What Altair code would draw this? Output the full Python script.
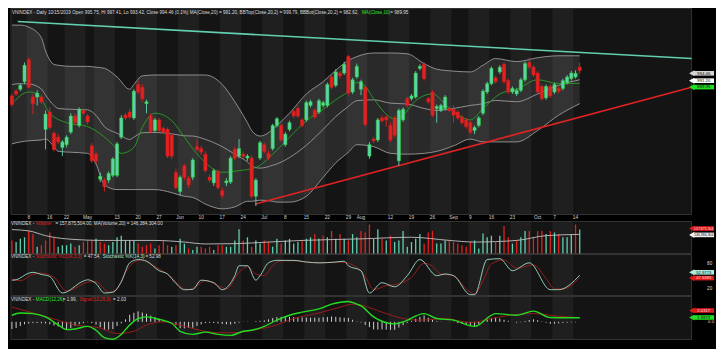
import altair as alt
import pandas as pd

# ---------------- data ----------------
# trading-day index: 0 = 2 Apr 2019 ... 135 = 15 Oct 2019
opens = [985.4, 987.1, 987.8, 990.5, 998.4, 985.0, 985.0, 985.0, 973.4, 979.6,
         972.0, 970.6, 966.9, 967.9, 972.4, 978.2, 974.8, 980.2, 978.2, 967.5,
         964.5, 955.5, 955.2, 955.2, 956.9, 956.9, 970.6, 978.5, 979.6, 977.5,
         989.5, 988.5, 982.6, 978.2, 973.0, 976.8, 973.7, 973.4, 971.3, 957.9,
         951.1, 960.3, 955.9, 956.2, 967.2, 966.5, 964.5, 956.2, 954.2, 958.3,
         951.4, 954.2, 954.5, 966.2, 963.8, 964.5, 963.1, 963.1, 949.4, 963.1,
         967.9, 964.8, 966.5, 974.8, 974.8, 967.9, 973.4, 979.9, 980.9, 976.8,
         976.8, 982.0, 980.2, 979.6, 982.0, 982.0, 992.2, 989.2, 993.6, 993.6,
         999.5, 986.8, 992.2, 987.8, 988.5, 963.8, 969.9, 969.6, 977.5, 977.8,
         974.8, 977.5, 962.1, 976.8, 984.4, 984.4, 985.0, 995.3, 996.7, 984.4,
         986.8, 980.9, 980.2, 980.9, 980.9, 980.6, 979.6, 977.8, 976.8, 975.8,
         973.0, 974.8, 979.2, 986.8, 989.8, 991.9, 994.0, 996.7, 990.9, 986.8,
         986.1, 987.4, 991.2, 997.4, 995.7, 993.6, 988.8, 984.7, 988.8, 986.8,
         988.1, 988.1, 990.2, 991.6, 992.2, 995.75]
highs = [986.1, 987.8, 989.8, 997.4, 999.1, 986.1, 987.4, 985.7, 980.2, 981.3,
         972.7, 971.7, 969.6, 971.3, 979.2, 979.2, 981.3, 980.9, 978.9, 968.6,
         965.5, 957.9, 955.9, 958.3, 963.4, 968.9, 978.5, 979.2, 980.6, 987.8,
         990.9, 989.5, 984.0, 979.2, 977.5, 977.5, 974.4, 974.1, 972.0, 959.3,
         956.9, 961.0, 956.6, 963.1, 969.9, 967.5, 965.5, 957.3, 959.3, 959.0,
         952.5, 955.9, 963.8, 967.2, 969.9, 965.5, 964.5, 964.1, 955.9, 969.3,
         968.6, 965.8, 975.4, 977.8, 975.4, 972.4, 976.5, 980.6, 982.0, 977.5,
         983.7, 984.0, 980.9, 984.4, 983.7, 990.2, 992.9, 995.0, 994.3, 997.7,
         1000.1, 991.9, 997.0, 991.2, 989.5, 968.9, 970.6, 977.5, 978.5, 978.5,
         975.8, 978.2, 980.9, 981.3, 985.0, 986.1, 994.3, 996.7, 997.4, 985.0,
         987.4, 982.3, 982.6, 985.7, 981.6, 982.0, 980.2, 978.5, 977.5, 976.5,
         974.8, 978.2, 987.8, 990.5, 996.0, 992.6, 996.4, 997.4, 991.6, 988.8,
         988.1, 991.9, 997.7, 999.1, 996.4, 994.3, 989.5, 989.5, 989.5, 990.2,
         988.8, 991.6, 992.9, 994.3, 994.6, 997.41]
lows = [981.6, 985.4, 987.1, 989.8, 988.1, 978.9, 982.0, 982.6, 966.2, 973.4,
        965.5, 968.2, 963.8, 966.9, 971.7, 974.8, 974.1, 978.5, 975.1, 961.4,
        961.0, 954.5, 951.1, 954.2, 956.2, 956.2, 969.9, 976.8, 977.2, 976.8,
        986.1, 983.3, 979.2, 972.0, 972.4, 972.4, 971.7, 963.1, 962.8, 951.8,
        949.7, 955.2, 952.5, 955.2, 965.5, 964.1, 957.9, 954.5, 953.1, 951.8,
        948.7, 953.1, 953.8, 962.4, 963.1, 962.8, 962.1, 948.7, 945.9, 962.4,
        964.8, 962.4, 965.8, 974.1, 968.9, 967.2, 972.7, 977.5, 977.5, 974.1,
        976.1, 981.3, 977.2, 978.9, 981.3, 981.3, 987.8, 988.5, 991.6, 992.9,
        985.7, 986.1, 991.6, 985.7, 974.4, 962.8, 968.6, 968.9, 975.8, 974.4,
        968.9, 970.6, 960.3, 976.1, 981.3, 983.7, 984.4, 994.6, 990.9, 982.6,
        977.8, 975.8, 979.6, 980.2, 979.6, 975.8, 976.8, 975.1, 973.7, 971.7,
        971.7, 974.1, 978.5, 986.1, 989.2, 989.8, 993.3, 989.8, 986.1, 986.1,
        985.4, 986.8, 990.5, 995.0, 992.2, 986.1, 983.7, 984.0, 984.7, 986.1,
        986.4, 987.4, 989.5, 990.9, 991.6, 993.42]
closes = [982.3, 986.1, 989.2, 996.4, 988.5, 982.6, 986.4, 983.3, 978.9, 974.1,
          966.2, 968.9, 968.9, 970.6, 978.2, 975.8, 980.6, 979.2, 976.1, 962.1,
          962.1, 956.6, 952.8, 957.6, 962.8, 968.2, 977.5, 977.5, 977.8, 987.1,
          986.8, 984.4, 983.3, 972.7, 976.8, 973.0, 972.4, 963.8, 963.8, 952.5,
          956.2, 956.2, 953.5, 962.4, 966.2, 965.2, 958.6, 955.2, 958.6, 952.5,
          949.7, 954.9, 963.1, 963.1, 966.5, 963.8, 963.8, 949.4, 955.2, 968.6,
          965.5, 963.1, 974.8, 977.2, 969.6, 971.7, 975.8, 978.2, 978.2, 974.8,
          983.0, 983.3, 977.8, 983.7, 983.0, 989.5, 988.5, 994.0, 992.6, 996.7,
          986.4, 991.2, 996.0, 990.5, 975.1, 967.9, 969.3, 976.8, 976.5, 976.8,
          969.6, 971.3, 980.2, 980.6, 982.0, 985.4, 993.6, 996.0, 991.6, 983.3,
          978.5, 981.6, 982.0, 985.0, 980.2, 978.5, 977.5, 975.8, 974.4, 972.4,
          974.1, 977.5, 987.1, 989.8, 995.3, 990.5, 995.7, 990.5, 986.8, 988.1,
          987.4, 991.2, 997.0, 995.7, 992.9, 986.8, 984.4, 988.8, 985.4, 989.5,
          987.1, 990.9, 992.2, 993.6, 993.5, 994.46]
volumes = [131.8, 128.0, 135.7, 139.5, 154.8, 147.2, 116.5, 120.3, 131.8, 151.0,
           139.5, 116.5, 120.3, 120.3, 124.2, 116.5, 120.3, 128.0, 131.8, 131.8,
           135.7, 128.0, 124.2, 120.3, 128.0, 139.5, 143.3, 131.8, 131.8, 131.8,
           124.2, 116.5, 120.3, 124.2, 112.7, 120.3, 131.8, 120.3, 116.5, 120.3,
           135.7, 124.2, 112.7, 108.8, 116.5, 116.5, 112.7, 116.5, 108.8, 120.3,
           120.3, 116.5, 116.5, 131.8, 158.7, 131.8, 139.5, 116.5, 131.8, 124.2,
           131.8, 128.0, 116.5, 135.7, 124.2, 131.8, 135.7, 124.2, 128.0, 131.8,
           135.7, 139.5, 147.2, 135.7, 143.3, 139.5, 154.8, 135.7, 147.2, 135.7,
           131.8, 147.2, 139.5, 154.8, 151.0, 170.2, 135.7, 158.7, 135.7, 131.8,
           143.3, 128.0, 131.8, 154.8, 116.5, 128.0, 135.7, 147.2, 124.2, 151.0,
           154.8, 124.2, 124.2, 131.8, 131.8, 128.0, 124.2, 120.3, 116.5, 128.0,
           131.8, 112.7, 148.7, 139.5, 143.3, 128.0, 143.3, 166.3, 139.5, 124.2,
           131.8, 139.5, 154.8, 154.8, 139.5, 154.8, 154.8, 147.2, 154.8, 151.0,
           147.2, 139.5, 139.5, 147.2, 170.2, 157.9]

bb_idx = [0, 2, 4, 7, 8, 10, 11, 14, 18, 20, 22, 25, 28, 29, 31, 34, 38, 41, 43, 46,
          50, 53, 54, 56, 57, 59, 62, 63, 66, 70, 74, 77, 80, 82, 86, 90, 94, 98, 101, 105,
          109, 112, 115, 120, 125, 130, 135]
bb_upper = [1010.8, 1010.8, 1010.1, 1006.3, 1001.5, 996.7, 996.4, 996.0, 996.0, 995.7,
            995.3, 992.2, 987.8, 989.5, 992.6, 992.9, 992.9, 992.9, 992.9, 992.9,
            989.5, 983.3, 980.9, 975.8, 973.0, 971.0, 973.4, 974.8, 979.2, 986.1,
            990.5, 994.6, 998.1, 999.5, 1000.8, 1000.8, 1000.5, 997.0, 995.0, 994.3,
            994.0, 996.4, 998.8, 997.7, 999.1, 999.8, 999.79]
bb_mid = [989.5, 989.8, 989.7, 987.9, 985.7, 982.0, 980.9, 980.6, 980.4, 978.4,
          974.4, 972.0, 969.8, 970.6, 972.2, 972.3, 971.8, 971.1, 971.0, 969.8,
          967.2, 964.5, 963.6, 961.7, 960.3, 959.5, 960.5, 961.0, 963.3, 967.7,
          973.4, 978.0, 981.6, 983.7, 984.0, 982.8, 982.5, 980.9, 980.2, 980.9,
          982.0, 982.6, 983.8, 983.3, 986.1, 989.2, 991.20]
bb_lower = [968.2, 968.9, 969.3, 969.6, 969.9, 967.2, 965.5, 965.2, 964.8, 961.0,
            953.5, 951.8, 951.8, 951.8, 951.8, 951.8, 950.7, 949.4, 949.0, 946.6,
            944.9, 945.6, 946.3, 947.6, 947.6, 948.0, 947.6, 947.3, 947.3, 949.4,
            956.2, 961.4, 965.2, 967.9, 967.2, 964.8, 964.5, 964.8, 965.5, 967.5,
            969.9, 968.9, 968.9, 968.9, 973.0, 978.5, 982.62]
ma10_idx = [0, 4, 6, 9, 13, 18, 24, 26, 29, 31, 34, 38, 41, 43, 46, 50, 54, 58, 62, 66,
            70, 74, 77, 80, 82, 84, 86, 91, 93, 96, 100, 104, 109, 112, 116, 120, 125, 130, 135]
ma10_val = [982.6, 986.8, 986.1, 979.2, 975.8, 974.4, 967.9, 964.8, 966.9, 974.1,
            979.2, 976.5, 970.6, 966.5, 961.4, 958.0, 958.6, 959.7, 964.5, 970.6,
            976.5, 980.6, 984.0, 987.1, 990.2, 988.8, 984.4, 977.2, 978.5, 983.7,
            986.1, 980.9, 976.8, 980.9, 986.1, 987.8, 991.2, 989.8, 989.95]

vma_idx = [0, 4, 8, 13, 22, 34, 41, 46, 53, 61, 69, 83, 95, 104, 110, 120, 127, 135]
vma_val = [157.9, 154.9, 143.4, 135.6, 131.9, 131.9, 128.0, 123.4, 124.1, 128.0,
           131.9, 135.6, 139.5, 131.9, 128.0, 131.9, 143.4, 146.4]

stk_idx = [0, 1, 4, 5, 7, 9, 12, 17, 18, 20, 22, 24, 26, 28, 30, 32, 35, 37, 39, 41,
           43, 45, 48, 50, 53, 54, 56, 58, 59, 61, 63, 65, 67, 70, 73, 77, 79, 80, 83, 85,
           88, 91, 94, 97, 101, 103, 105, 109, 110, 113, 116, 119, 123, 128, 130, 135]
stk_val = [41, 42, 58, 60, 55, 50, 10, 39, 42, 33, 10, 12, 37, 83, 91, 87, 64, 56, 33, 18,
           19, 41, 35, 18, 52, 76, 76, 41, 52, 83, 89, 89, 89, 85, 83, 85, 87, 76, 64, 10,
           35, 25, 52, 91, 52, 56, 52, 6, 6, 91, 93, 64, 83, 18, 18, 52.98]
std_idx = [0, 2, 5, 7, 10, 13, 18, 20, 23, 25, 27, 29, 31, 33, 36, 38, 40, 42, 44, 46,
           49, 51, 54, 56, 58, 60, 62, 64, 67, 71, 74, 78, 80, 82, 84, 86, 89, 91, 95, 98,
           100, 102, 105, 108, 110, 112, 114, 117, 120, 124, 127, 129, 131, 135]
std_val = [44, 40, 55, 58, 48, 15, 36, 38, 12, 20, 60, 84, 90, 80, 62, 48, 26, 18, 28, 40,
           28, 20, 60, 74, 56, 52, 76, 88, 88, 84, 83, 85, 82, 72, 50, 18, 28, 30, 48, 82,
           75, 56, 52, 20, 8, 40, 80, 90, 70, 78, 45, 20, 20, 47.54]

macd_idx = [0, 2, 5, 8, 11, 13, 15, 18, 20, 22, 24, 26, 28, 30, 32, 35, 38, 40, 43, 46,
            49, 52, 55, 57, 60, 63, 66, 69, 73, 76, 80, 82, 83, 86, 91, 93, 98, 101, 105, 110,
            115, 120, 124, 128, 132, 135]
macd_val = [3.2, 4.3, 4.0, 2.4, -1.5, -3.8, -3.5, -2.2, -4.1, -7.7, -8.5, -6.1, -1.5, 1.6,
            2.4, 1.2, -0.7, -4.6, -6.1, -5.0, -6.1, -6.6, -4.6, -4.1, -2.2, 0.8, 3.2, 4.7,
            6.3, 8.6, 9.9, 8.6, 7.8, 2.4, -1.0, 0.0, 4.0, 1.6, 0.8, -2.2, 4.0, 3.2, 5.2,
            2.1, 2.0, 1.99]
sig_idx = [0, 4, 11, 15, 21, 25, 29, 32, 36, 40, 44, 49, 53, 58, 63, 67, 73, 78, 81, 83,
           88, 93, 97, 103, 109, 114, 120, 124, 130, 135]
sig_val = [7.2, 4.9, 0.8, -1.5, -3.0, -5.7, -4.6, -1.5, 0.0, -1.5, -3.8, -5.3, -5.3, -3.8,
           -1.5, 1.6, 4.3, 7.1, 8.6, 8.1, 4.7, 1.6, 0.8, 1.6, -0.4, 1.6, 3.6, 4.0, 2.7, 2.03]
macd_hist = [-3.5, -3.0, -2.0, -1.2, -0.8, -0.6, -0.6, -0.7, -0.8, -1.2,
             -1.8, -2.3, -3.0, -3.6, -3.0, -2.0, -1.2, -0.6, -0.2, -0.6,
             -1.3, -2.6, -4.0, -3.8, -3.5, -2.0, -0.7, 1.2, 3.4, 4.4,
             5.1, 4.5, 3.9, 3.0, 2.3, 1.6, 1.0, 0.4, 0.0, -1.5,
             -3.1, -3.2, -3.0, -2.9, -2.0, -1.2, -0.6, -0.5, -0.6, -0.8,
             -1.0, -1.2, -1.3, -0.9, -0.4, 0.1, 0.1, 0.0, 0.3, 0.5,
             0.7, 1.2, 1.8, 2.3, 2.4, 2.5, 2.4, 2.3, 2.3, 2.2,
             2.1, 2.0, 2.0, 2.0, 2.2, 2.4, 2.6, 2.4, 2.2, 2.0,
             1.9, 1.0, 0.2, -0.3, -1.5, -2.6, -3.7, -3.8, -3.7, -3.8,
             -3.9, -3.9, -2.8, -1.6, -0.5, 0.5, 1.5, 2.4, 3.1, 2.0,
             1.0, 0.3, 0.1, 0.0, -0.1, -0.2, -0.6, -1.0, -1.5, -1.9,
             -2.2, -1.2, 0.2, 1.2, 1.8, 2.1, 1.6, 1.0, 0.5, 0.0,
             -0.4, -0.2, 0.4, 0.9, 1.2, 0.8, 0.2, -0.4, -1.0, -0.9,
             -0.7, -0.5, -0.4, -0.3, -0.2, -0.04]

trend_name = ["res", "res", "sup", "sup"]
trend_idx = [1.4, 161.6, 57.9, 161.6]
trend_price = [1012.1, 998.8, 946.6, 988.5]

tick_idx = [4, 9, 13, 18, 25, 30, 35, 40, 45, 50, 55, 60, 65, 70, 75, 80, 83, 90, 95, 100,
            105, 109, 114, 119, 125, 129, 134]
tick_lbl = ["8", "16", "22", "May", "13", "20", "27", "Jun", "10", "17", "24", "Jul", "8",
            "15", "22", "29", "Aug", "12", "19", "26", "Sep", "9", "16", "23", "Oct", "7", "14"]
week_starts = [0, 4, 9, 13, 18, 20, 25, 30, 35, 40, 45, 50, 55, 60, 65, 70, 75, 80, 85, 90,
               95, 100, 105, 109, 114, 119, 124, 129, 134]

# ---------------- layout / style ----------------
W = 708
SX = W / 724.0
XMIN, XMAX = -0.93, 167.4
H_MAIN, H_DATE, H_VOL, H_STO, H_MACD, H_BOT = 207, 6, 33, 42, 44, 9
FONT = "Liberation Sans"
GREEN, RED = "#1fe01f", "#e31c1c"
VGREEN, VRED = "#28a828", "#d01e1e"
WHITE = "#dcdcdc"
PX0, PX1 = 3 * SX, 699 * SX
TAG0, TAG1 = 701 * SX, 722 * SX

xs = alt.Scale(domain=[XMIN, XMAX], nice=False, zero=False)
ONE = pd.DataFrame({"a": [0]})


def X(f):
    return alt.X(f, type="quantitative", scale=xs, axis=None)


n = len(closes)
df = pd.DataFrame(dict(idx=list(range(n)), o=opens, h=highs, l=lows, c=closes,
                       v=volumes, hist=macd_hist))
df["dir"] = ["up" if c >= o else "dn" for o, c in zip(opens, closes)]
prev = [opens[0]] + closes[:-1]
df["vdir"] = ["up" if c >= p else "dn" for c, p in zip(closes, prev)]
dir_scale = alt.Scale(domain=["up", "dn"], range=[GREEN, RED])
vdir_scale = alt.Scale(domain=["up", "dn"], range=[VGREEN, VRED])

light = []
for k, s in enumerate(week_starts):
    e = week_starts[k + 1] if k + 1 < len(week_starts) else n
    if k % 2 == 1:
        light.append(dict(x0=s - 0.5, x1=e - 0.5))
stripe_df = pd.DataFrame(light)


def background(h):
    base = alt.Chart(ONE).mark_rect(fill="#141414", stroke="#3e3e3e", strokeWidth=0.8).encode(
        x=alt.value(PX0), x2=alt.value(PX1), y=alt.value(0.5), y2=alt.value(h - 0.5))
    st = alt.Chart(stripe_df).mark_rect(fill="#1f1f1f").encode(
        x=X("x0"), x2=alt.X2("x1"), y=alt.value(1), y2=alt.value(h - 1))
    return [base, st]


def segs(items, py, size=4.6):
    out = []
    for rx, t, c in items:
        out.append(alt.Chart(ONE).mark_text(text=t, color=c, align="left", baseline="middle",
                                            font=FONT, fontSize=size).encode(
            x=alt.value(rx * SX), y=alt.value(py)))
    return out


def tags(items):
    out = []
    for label, py, fill, tc, fs in items:
        out.append(alt.Chart(ONE).mark_rect(fill=fill).encode(
            x=alt.value(TAG0), x2=alt.value(TAG1), y=alt.value(py - 2.3), y2=alt.value(py + 2.3)))
        out.append(alt.Chart(ONE).mark_point(shape="triangle-left", filled=True, fill=fill,
                                             stroke=fill, size=7, opacity=1).encode(
            x=alt.value(TAG0 - 1.3), y=alt.value(py)))
        out.append(alt.Chart(ONE).mark_text(text=label, color=tc, align="center", baseline="middle",
                                            font=FONT, fontSize=fs).encode(
            x=alt.value((TAG0 + TAG1) / 2), y=alt.value(py + 0.2)))
    return out


# ---------------- main price panel ----------------
ys = alt.Scale(domain=[942.68, 1016.94], nice=False, zero=False)
bands = pd.DataFrame(dict(idx=bb_idx, up=bb_upper, mid=bb_mid, lo=bb_lower))
ma10 = pd.DataFrame(dict(idx=ma10_idx, v=ma10_val))
trend = pd.DataFrame(dict(name=trend_name, idx=trend_idx, p=trend_price))

main_layers = background(H_MAIN)
main_layers.append(alt.Chart(bands).mark_area(color="#ffffff", opacity=0.09, interpolate="monotone").encode(
    x=X("idx"), y=alt.Y("up", scale=ys, axis=None), y2="lo"))
for col in ["up", "lo", "mid"]:
    main_layers.append(alt.Chart(bands).mark_line(color="#9a9a9a", strokeWidth=0.9,
                                                  interpolate="monotone").encode(
        x=X("idx"), y=alt.Y(col, scale=ys, axis=None)))
main_layers.append(alt.Chart(ma10).mark_line(color="#26a026", strokeWidth=0.9,
                                             interpolate="monotone").encode(
    x=X("idx"), y=alt.Y("v", scale=ys, axis=None)))
main_layers.append(alt.Chart(trend).mark_line(strokeWidth=1.6, clip=True).encode(
    x=X("idx"), y=alt.Y("p", scale=ys, axis=None), detail="name:N",
    color=alt.Color("name:N", scale=alt.Scale(domain=["res", "sup"], range=["#62cfb0", "#e02222"]),
                    legend=None)))
main_layers.append(alt.Chart(df).mark_rule(strokeWidth=0.9).encode(
    x=X("idx"), y=alt.Y("l", scale=ys, axis=None), y2="h",
    color=alt.Color("dir:N", scale=dir_scale, legend=None)))
main_layers.append(alt.Chart(df).transform_calculate(
    x0="datum.idx - 0.38", x1="datum.idx + 0.38").mark_rect(strokeWidth=0.5).encode(
    x=X("x0:Q"), x2="x1:Q", y=alt.Y("o", scale=ys, axis=None), y2="c",
    color=alt.Color("dir:N", scale=dir_scale, legend=None),
    stroke=alt.Stroke("dir:N", scale=dir_scale, legend=None)))
main_layers += segs([
    (4, "VNINDEX - Daily 10/15/2019 Open 995.75, Hi 997.41, Lo 993.42, Close 994.46 (0.1%) "
        "MA(Close,20) = 991.20, BBTop(Close,20,2) = 999.79, BBBot(Close,20,2) = 982.62,", WHITE),
    (362, "MA(Close,10)", "#2ee62e"), (391, "= 989.95", WHITE)], 4.8)
main_layers += tags([("994.46", 65.3, "#d4d4d4", "#111111", 4.4),
                     ("991.20", 72.7, "#ffffff", "#111111", 4.4),
                     ("989.95", 79.1, "#22dd22", "#111111", 4.4)])
main = alt.layer(*main_layers).properties(width=W, height=H_MAIN)

# ---------------- date strip ----------------
ticks = pd.DataFrame(dict(idx=tick_idx, t=tick_lbl))
date = alt.layer(
    alt.Chart(ONE).mark_rect(fill="#000000").encode(
        x=alt.value(0), x2=alt.value(W), y=alt.value(0), y2=alt.value(H_DATE)),
    alt.Chart(ticks).mark_text(color="#d0d0d0", font=FONT, fontSize=4.8, baseline="middle").encode(
        x=X("idx"), y=alt.value(3.2), text="t:N"),
).properties(width=W, height=H_DATE)

# ---------------- volume ----------------
yv = alt.Scale(domain=[99.25, 178.6], nice=False, zero=False)
vma = pd.DataFrame(dict(idx=vma_idx, v=vma_val))
vol_layers = background(H_VOL)
vol_layers.append(alt.Chart(df).mark_rule(strokeWidth=1.3, clip=True).encode(
    x=X("idx"), y=alt.Y("v", scale=yv, axis=None), y2=alt.value(H_VOL - 0.5),
    color=alt.Color("vdir:N", scale=vdir_scale, legend=None)))
vol_layers.append(alt.Chart(vma).mark_line(color="#c0c0c0", strokeWidth=0.9,
                                           interpolate="monotone").encode(
    x=X("idx"), y=alt.Y("v", scale=yv, axis=None)))
vol_layers += segs([(3, "VNINDEX - ", WHITE), (28.5, "Volume", RED),
                    (48.5, "= 157,875,504.00, MA(Volume,20) = 146,384,304.00", WHITE)], 3.4)
vol_layers += tags([("157,875,504", 7.5, "#e01b1b", "#ffdede", 3.5),
                    ("146,384,304", 13.9, "#f2f2f2", "#111111", 3.5)])
vol = alt.layer(*vol_layers).properties(width=W, height=H_VOL)

# ---------------- stochastic ----------------
yst = alt.Scale(domain=[2.8, 104.4], nice=False, zero=False)
stk = pd.DataFrame(dict(idx=stk_idx, v=stk_val))
std = pd.DataFrame(dict(idx=std_idx, v=std_val))
sto_layers = background(H_STO)
sto_layers.append(alt.Chart(std).mark_line(color="#a51c1c", strokeWidth=0.9,
                                           interpolate="monotone").encode(
    x=X("idx"), y=alt.Y("v", scale=yst, axis=None)))
sto_layers.append(alt.Chart(stk).mark_line(color="#9fdcca", strokeWidth=0.9,
                                           interpolate="monotone").encode(
    x=X("idx"), y=alt.Y("v", scale=yst, axis=None)))
sto_layers += segs([(3, "VNINDEX - ", WHITE), (28.5, "Stochastic %D(14,3,3)", RED),
                    (77.5, "= 47.54,", WHITE), (97, "Stochastic %K(14,3)", "#a8e8d6"),
                    (140.5, "= 52.98", WHITE)], 3.4)
sto_layers += tags([("52.9773", 18.3, "#a9ecda", "#111111", 4.2),
                    ("47.5383", 24.1, "#e01b1b", "#ffdede", 4.2)])
for lab, py in [("80", 10.0), ("20", 34.8)]:
    sto_layers.append(alt.Chart(ONE).mark_text(text=lab, color=WHITE, font=FONT, fontSize=4.6,
                                               baseline="middle").encode(
        x=alt.value(717.5 * SX), y=alt.value(py)))
sto = alt.layer(*sto_layers).properties(width=W, height=H_STO)

# ---------------- MACD ----------------
ym = alt.Scale(domain=[-8.84, 12.56], nice=False, zero=False)
mline = pd.DataFrame(dict(idx=macd_idx, v=macd_val))
sline = pd.DataFrame(dict(idx=sig_idx, v=sig_val))
macd_layers = background(H_MACD)
macd_layers.append(alt.Chart(df).mark_rule(color="#cfcfcf", strokeWidth=1.0).encode(
    x=X("idx"), y=alt.Y("hist", scale=ym, axis=None), y2=alt.datum(0)))
macd_layers.append(alt.Chart(sline).mark_line(color="#a51c1c", strokeWidth=0.9,
                                              interpolate="monotone").encode(
    x=X("idx"), y=alt.Y("v", scale=ym, axis=None)))
macd_layers.append(alt.Chart(mline).mark_line(color="#22dd22", strokeWidth=1.4,
                                              interpolate="monotone").encode(
    x=X("idx"), y=alt.Y("v", scale=ym, axis=None)))
macd_layers += segs([(3, "VNINDEX - ", WHITE), (28.5, "MACD(12,26)", "#2ee62e"),
                     (56, "= 1.99,", WHITE), (73, "Signal(12,26,9)", RED),
                     (107.5, "= 2.03", WHITE)], 4.3)
macd_layers += tags([("2.0317", 14.5, "#e01b1b", "#ffdede", 4.2),
                     ("1.9873", 21.5, "#22dd22", "#111111", 4.2)])
macd_layers.append(alt.Chart(ONE).mark_text(text="0.0", color=WHITE, font=FONT, fontSize=4.4,
                                            baseline="middle").encode(
    x=alt.value(719 * SX), y=alt.value(25.6)))
macd = alt.layer(*macd_layers).properties(width=W, height=H_MACD)

# ---------------- bottom strip ----------------
bot = alt.Chart(ONE).mark_rect(fill="#000000").encode(
    x=alt.value(0), x2=alt.value(W), y=alt.value(0), y2=alt.value(H_BOT)
).properties(width=W, height=H_BOT)

chart = alt.vconcat(main, date, vol, sto, macd, bot, spacing=0, bounds="flush").properties(
    background="#000000", padding=0
).configure_view(strokeWidth=0)

chart.save("out.html", embed_options={"renderer": "svg", "actions": False})
